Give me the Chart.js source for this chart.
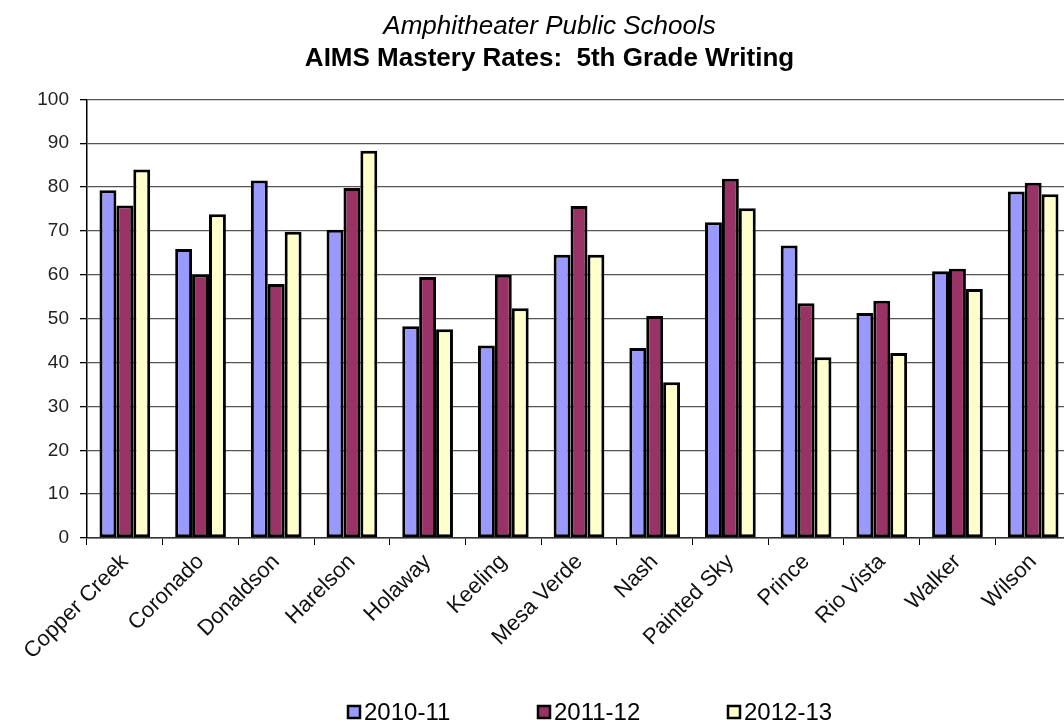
<!DOCTYPE html>
<html>
<head>
<meta charset="utf-8">
<script src="https://cdn.jsdelivr.net/npm/chart.js@4"></script>
<style>
  html, body { margin: 0; padding: 0; background: #fff; overflow: hidden; }
</style>
</head>
<body>
<canvas id="aimsChart" width="1099" height="724"></canvas>
<script>
const schools = ['Copper Creek', 'Coronado', 'Donaldson', 'Harelson', 'Holaway', 'Keeling',
    'Mesa Verde', 'Nash', 'Painted Sky', 'Prince', 'Rio Vista', 'Walker', 'Wilson'];
const years = ['2010-11', '2011-12', '2012-13'];
const rates2010 = [79.3, 65.9, 81.5, 70.3, 48.3, 43.9, 64.6, 43.3, 72.0, 66.7, 51.3, 60.8, 79.0];
const rates2011 = [75.8, 60.1, 57.9, 79.8, 59.5, 60.0, 75.7, 50.6, 81.9, 53.5, 54.1, 61.4, 81.0];
const rates2012 = [84.0, 73.8, 69.8, 88.3, 47.6, 52.4, 64.6, 35.5, 75.2, 41.2, 42.2, 56.8, 78.4];
const yTicks = [0, 10, 20, 30, 40, 50, 60, 70, 80, 90, 100];

const FONT = '"Liberation Sans", Arial, sans-serif';
const colors = ['#9999FF', '#993366', '#FFFFCC'];

// excel-ish legend: square swatch with black border, wide spacing
const bottomLegend = {
    id: 'bottomLegend',
    afterDraw(chart) {
        const ctx = chart.ctx;
        const area = chart.chartArea;
        const step = 190;
        let x = (area.left + area.right) / 2 - 231;
        const y = chart.height - 12;
        ctx.save();
        ctx.font = '24px ' + FONT;
        ctx.textBaseline = 'middle';
        ctx.textAlign = 'left';
        chart.data.datasets.forEach(ds => {
            ctx.fillStyle = ds.backgroundColor;
            ctx.fillRect(x, y - 6, 12, 12);
            ctx.lineWidth = 2.5;
            ctx.strokeStyle = '#000';
            ctx.strokeRect(x, y - 6, 12, 12);
            ctx.fillStyle = '#000';
            ctx.fillText(ds.label, x + 16, y + 1);
            x += step;
        });
        ctx.restore();
    }
};

const datasets = [rates2010, rates2011, rates2012].map((vals, i) => ({
    label: years[i],
    data: vals,
    backgroundColor: colors[i],
    borderColor: '#000',
    borderWidth: 3,
    borderSkipped: false,
    categoryPercentage: 0.67,
    barPercentage: 1.0
}));

new Chart(document.getElementById('aimsChart').getContext('2d'), {
    type: 'bar',
    data: { labels: schools, datasets: datasets },
    plugins: [bottomLegend],
    options: {
        responsive: false,
        animation: false,
        // symmetric side padding keeps the titles centred on the full canvas
        layout: { padding: { left: 28, right: 28, top: 0, bottom: 56 } },
        plugins: {
            legend: { display: false },
            tooltip: { enabled: false },
            title: {
                display: true,
                text: 'Amphitheater Public Schools',
                color: '#000',
                font: { family: FONT, size: 26, style: 'italic', weight: 'normal' },
                padding: { top: 11, bottom: 0 }
            },
            subtitle: {
                display: true,
                text: 'AIMS Mastery Rates:  5th Grade Writing',
                color: '#000',
                font: { family: FONT, size: 26, weight: 'bold' },
                padding: { top: 1, bottom: 25 }
            }
        },
        scales: {
            x: {
                grid: { display: true, offset: true, drawOnChartArea: false, tickLength: 7, tickColor: '#000' },
                border: { color: '#333', width: 1.5 },
                ticks: {
                    color: '#111',
                    font: { family: FONT, size: 22 },
                    maxRotation: 45, minRotation: 45,
                    padding: 4,
                    autoSkip: false
                },
                afterFit: scale => { scale.height = 130; }
            },
            y: {
                min: 0, max: 100,
                afterBuildTicks: scale => { scale.ticks = yTicks.map(v => ({ value: v })); },
                grid: { color: '#555', lineWidth: 1.3, tickLength: 7, tickColor: '#000' },
                border: { color: '#000', width: 1.5 },
                ticks: {
                    color: '#222',
                    font: { family: FONT, size: 19 },
                    padding: 11
                },
                afterFit: scale => { scale.width = 59; }
            }
        }
    }
});
</script>
</body>
</html>
